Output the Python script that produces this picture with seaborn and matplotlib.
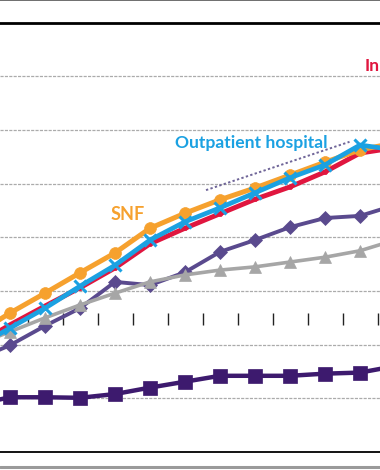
import matplotlib
matplotlib.use("Agg")
import matplotlib.pyplot as plt
import seaborn as sns
import pandas as pd

# x positions of the yearly points (first and last fall outside the crop)
periods = list(range(-1, 12))

# cumulative growth (grid step = 10)
inpatient = [19.9, 23.7, 27.2, 30.6, 34.3, 38.8, 41.7, 44.4, 47.1, 49.4, 52.2, 55.7, 56.7]
outpatient = [19.4, 23.1, 26.8, 30.9, 34.8, 39.5, 42.9, 45.5, 48.3, 51.1, 53.5, 57.2, 56.3]
snf = [21.8, 25.9, 29.6, 33.4, 37.1, 41.7, 44.5, 47.0, 49.2, 51.6, 54.0, 56.3, 57.6]
diamonds = [17.1, 19.9, 23.5, 26.8, 31.7, 31.1, 33.5, 37.3, 39.5, 41.9, 43.6, 44.0, 46.0]
triangles = [19.9, 22.4, 25.0, 27.4, 29.6, 31.7, 33.0, 33.9, 34.5, 35.4, 36.3, 37.5, 39.5]
squares = [8.8, 10.2, 10.2, 10.1, 10.8, 12.0, 13.1, 14.2, 14.2, 14.2, 14.6, 14.8, 16.0]

# faint dotted callout line
note_x = [5.6, 9.7]
note_y = [48.8, 57.8]

df = pd.DataFrame({"period": periods, "inpatient": inpatient, "outpatient": outpatient,
                   "snf": snf, "diamonds": diamonds, "triangles": triangles, "squares": squares})

sns.set_style("white")
plt.rcParams['font.family'] = ['Lato', 'DejaVu Sans']

fig = plt.figure(figsize=(3.8, 4.7), dpi=100)
ax = fig.add_axes([0, 18 / 470, 1, 429.3 / 470])

# series: (column, color, marker, markersize, linewidth, zorder)
styles = [
    ("squares", "#3d1a6e", "s", 9.5, 3.2, 3),
    ("diamonds", "#5a4a8e", "D", 7.5, 2.8, 3),
    ("triangles", "#a6a6a6", "^", 8, 2.6, 4),
    ("inpatient", "#e0163f", "o", 3, 3.5, 5),
    ("snf", "#f6a12e", "o", 8.5, 3.6, 6),
    ("outpatient", "#1ba1e2", "x", 8, 3.4, 7),
]
for col, color, mk, ms, lw, z in styles:
    sns.lineplot(data=df, x="period", y=col, ax=ax, color=color, marker=mk,
                 markersize=ms, linewidth=lw, markeredgecolor=color,
                 markeredgewidth=2.2 if mk == "x" else 0.5, zorder=z)

ax.plot(note_x, note_y, color="#6f6598", linestyle=(0, (1.2, 1.2)), linewidth=1.4, zorder=8)

ax.set_xlim(-10 / 35, 370 / 35)
ax.set_ylim(0, 80)
ax.set_yticks(range(10, 80, 10))
ax.yaxis.grid(True, color="#ababab", linestyle=(0, (2.5, 1.0)), linewidth=0.9)
ax.set_axisbelow(True)
ax.set_xticks([])
ax.set_yticklabels([])
ax.set_xlabel("")
ax.set_ylabel("")
ax.tick_params(left=False, bottom=False)
ax.spines["left"].set_visible(False)
ax.spines["right"].set_visible(False)
ax.spines["top"].set_color("black")
ax.spines["top"].set_linewidth(2.0)
ax.spines["bottom"].set_color("black")
ax.spines["bottom"].set_linewidth(1.3)

# category axis crossing the plot: tick marks only
sec = ax.secondary_xaxis((452 - 319) / 429.3)
sec.set_xticks([p + 0.5 for p in periods])
sec.set_xticklabels([])
sec.tick_params(direction="inout", length=8, width=1.0, color="#222222")
sec.spines["bottom"].set_visible(False)

ax.text(2.86, 43.2, "SNF", color="#f6a12e", fontsize=13, fontweight="bold")
ax.text(4.72, 56.6, "Outpatient hospital", color="#1ba1e2", fontsize=12.6, fontweight="bold")
# only the start of this label is inside the cropped view
ax.text(10.57, 71.0, "In", color="#e0163f", fontsize=12.6, fontweight="bold", ha="right")

# outer frame of the original figure
fig.add_artist(plt.Line2D([0, 1], [0.999, 0.999], transform=fig.transFigure, color="#555555", lw=1.2))
fig.add_artist(plt.Line2D([0, 1], [0.006, 0.006], transform=fig.transFigure, color="#9a9a9a", lw=2.2))

fig.savefig("out.png", dpi=100)
